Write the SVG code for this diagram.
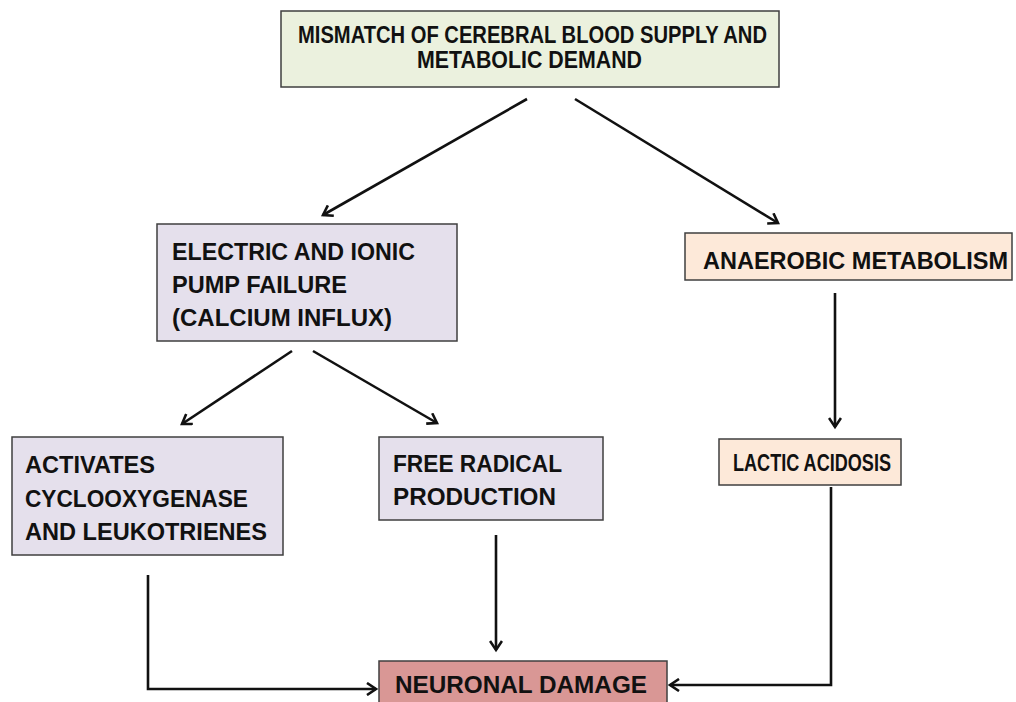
<svg xmlns="http://www.w3.org/2000/svg" width="1016" height="702" viewBox="0 0 1016 702">
<style>
.box{stroke:#3f3f3f;stroke-width:1.5}
.t{font-family:"Liberation Sans",Arial,sans-serif;font-weight:bold;fill:#111;font-size:24px}
.c{fill:none;stroke:#111;stroke-width:2.6}
</style>
<defs>
<marker id="ah" markerWidth="14" markerHeight="14" refX="11" refY="7" orient="auto" markerUnits="userSpaceOnUse">
<path d="M2,1 L11,7 L2,13" fill="none" stroke="#111" stroke-width="2.6"/>
</marker>
</defs>
<rect width="1016" height="702" fill="#fff"/>
<g id="connectors">
<line class="c" x1="527" y1="99" x2="323" y2="215" marker-end="url(#ah)"/>
<line class="c" x1="575" y1="99" x2="778" y2="223" marker-end="url(#ah)"/>
<line class="c" x1="835" y1="293" x2="835" y2="427" marker-end="url(#ah)"/>
<line class="c" x1="292" y1="351" x2="182" y2="424" marker-end="url(#ah)"/>
<line class="c" x1="313" y1="351" x2="437" y2="423" marker-end="url(#ah)"/>
<polyline class="c" points="148,575 148,689 376,689" marker-end="url(#ah)"/>
<line class="c" x1="496" y1="535" x2="496" y2="650" marker-end="url(#ah)"/>
<polyline class="c" points="831,487 831,685 670,685" marker-end="url(#ah)"/>
</g>
<g id="mismatch">
<rect class="box" x="281" y="11" width="498" height="76" fill="#ebf1de"/>
<text class="t" x="298" y="43" font-size="22" textLength="469" lengthAdjust="spacingAndGlyphs">MISMATCH OF CEREBRAL BLOOD SUPPLY AND</text>
<text class="t" x="417" y="68" font-size="22" textLength="225" lengthAdjust="spacingAndGlyphs">METABOLIC DEMAND</text>
</g>
<g id="electric">
<rect class="box" x="157" y="224" width="300" height="117" fill="#e5e0ec"/>
<text class="t" x="172" y="260" textLength="243" lengthAdjust="spacingAndGlyphs">ELECTRIC AND IONIC</text>
<text class="t" x="172" y="293" textLength="175" lengthAdjust="spacingAndGlyphs">PUMP FAILURE</text>
<text class="t" x="172" y="326" textLength="220" lengthAdjust="spacingAndGlyphs">(CALCIUM INFLUX)</text>
</g>
<g id="anaerobic">
<rect class="box" x="685" y="233" width="327" height="47" fill="#fde9d9"/>
<text class="t" x="703" y="269" textLength="305" lengthAdjust="spacingAndGlyphs">ANAEROBIC METABOLISM</text>
</g>
<g id="activates">
<rect class="box" x="12" y="437" width="271" height="118" fill="#e5e0ec"/>
<text class="t" x="25" y="473" textLength="130" lengthAdjust="spacingAndGlyphs">ACTIVATES</text>
<text class="t" x="25" y="507" textLength="223" lengthAdjust="spacingAndGlyphs">CYCLOOXYGENASE</text>
<text class="t" x="25" y="540" textLength="242" lengthAdjust="spacingAndGlyphs">AND LEUKOTRIENES</text>
</g>
<g id="freeradical">
<rect class="box" x="379" y="437" width="224" height="83" fill="#e5e0ec"/>
<text class="t" x="393" y="472" textLength="169" lengthAdjust="spacingAndGlyphs">FREE RADICAL</text>
<text class="t" x="393" y="505" textLength="163" lengthAdjust="spacingAndGlyphs">PRODUCTION</text>
</g>
<g id="lactic">
<rect class="box" x="719" y="439" width="182" height="46" fill="#fde9d9"/>
<text class="t" x="733" y="471" textLength="158" lengthAdjust="spacingAndGlyphs">LACTIC ACIDOSIS</text>
</g>
<g id="neuronal">
<rect class="box" x="379" y="661" width="288" height="50" fill="#d99795"/>
<text class="t" x="395" y="693" textLength="252" lengthAdjust="spacingAndGlyphs">NEURONAL DAMAGE</text>
</g>
</svg>
